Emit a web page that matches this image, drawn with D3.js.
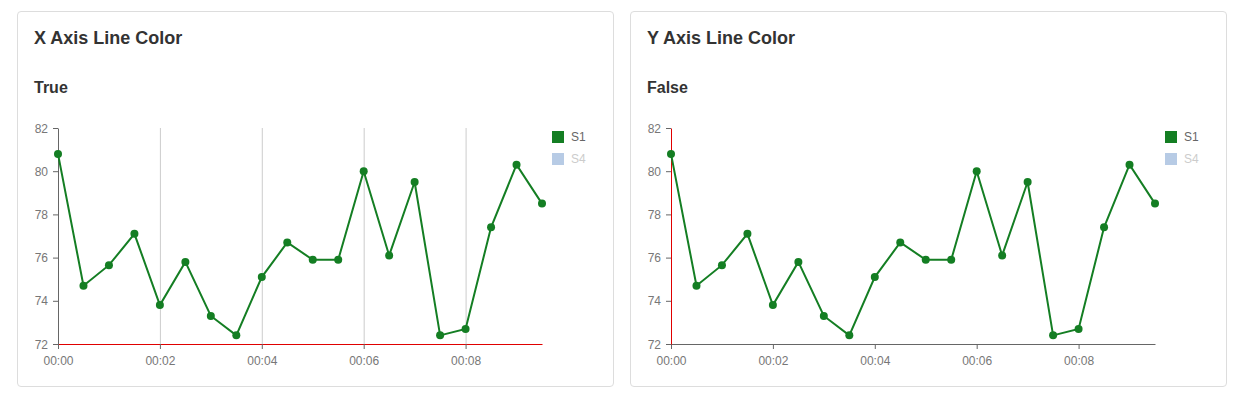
<!DOCTYPE html>
<html>
<head>
<meta charset="utf-8">
<script src="https://cdn.jsdelivr.net/npm/d3@7"></script>
<style>
  body { margin: 0; background: #fff; font-family: "Liberation Sans", Arial, sans-serif; }
  #root { position: relative; width: 1235px; height: 396px; }
  .card { position: absolute; top: 11px; width: 595px; height: 374px; border: 1px solid #ddd; border-radius: 4px; }
  svg { display: block; }
</style>
</head>
<body>
<div id="root"></div>
<script>
// half-minute samples, in seconds from 00:00
const seconds = [0, 30, 60, 90, 120, 150, 180, 210, 240, 270, 300, 330, 360, 390, 420, 450, 480, 510, 540, 570];
const s1Values = [80.8, 74.7, 75.65, 77.1, 73.8, 75.8, 73.3, 72.4, 75.1, 76.7, 75.9, 75.9, 80.0, 76.1, 79.5, 72.4, 72.7, 77.4, 80.3, 78.5];
const yTicks = [72, 74, 76, 78, 80, 82];
const xTicks = [0, 120, 240, 360, 480];
const seriesNames = ["S1", "S4"];
const cards = [
  { title: "X Axis Line Color", subtitle: "True", left: 17, redAxis: "x", grid: true },
  { title: "Y Axis Line Color", subtitle: "False", left: 630, redAxis: "y", grid: false },
];

const root = d3.select("#root");
const width = 595;
const height = 374;
const margin = { top: 116, right: 71, bottom: 42, left: 40 };
const innerWidth = width - margin.left - margin.right;
const innerHeight = height - margin.top - margin.bottom;

const xScale = d3.scaleLinear().domain([0, 570]).range([0, innerWidth]);
const yScale = d3.scaleLinear().domain([72, 82]).range([innerHeight, 0]);
const fmt = (s) => "00:0" + Math.floor(s / 60);

cards.forEach((c) => {
  const svg = root
    .append("div")
    .attr("class", "card")
    .style("left", c.left + "px")
    .append("svg")
    .attr("width", width)
    .attr("height", height);

  svg.append("text").text(c.title)
    .attr("x", 16).attr("y", 32)
    .attr("font-size", 18).attr("font-weight", 700).attr("fill", "#333");
  svg.append("text").text(c.subtitle)
    .attr("x", 16).attr("y", 81)
    .attr("font-size", 16).attr("font-weight", 700).attr("fill", "#333");

  const g = svg.append("g").attr("transform", `translate(${margin.left}, ${margin.top})`);

  // vertical gridlines
  if (c.grid) {
    g.selectAll("line.grid")
      .data(xTicks.slice(1))
      .join("line")
      .attr("x1", (d) => xScale(d) + 0.5).attr("x2", (d) => xScale(d) + 0.5)
      .attr("y1", 0).attr("y2", innerHeight)
      .attr("stroke", "#ccc");
  }

  const xAxis = g.append("g")
    .attr("transform", `translate(0, ${innerHeight})`)
    .call(d3.axisBottom(xScale).tickValues(xTicks).tickFormat(fmt).tickSize(5).tickPadding(7).tickSizeOuter(0));
  const yAxis = g.append("g")
    .call(d3.axisLeft(yScale).tickValues(yTicks).tickSize(5).tickPadding(5).tickSizeOuter(0));

  [xAxis, yAxis].forEach((ax) => {
    ax.selectAll("line").attr("stroke", "#666");
    ax.selectAll("text").attr("fill", "#777").attr("font-size", 12)
      .attr("font-family", "Liberation Sans, Arial, sans-serif");
    ax.select(".domain").attr("stroke", "#666");
  });
  xAxis.selectAll("text").attr("dy", null).attr("y", 21);
  yAxis.selectAll("text").attr("dy", null).attr("y", 4);
  (c.redAxis === "x" ? xAxis : yAxis).select(".domain").attr("stroke", "#e00000");

  const line = d3.line().x((d, i) => xScale(seconds[i])).y((d) => yScale(d));
  g.append("path").datum(s1Values)
    .attr("d", line).attr("fill", "none")
    .attr("stroke", "#147e23").attr("stroke-width", 2);
  g.selectAll("circle")
    .data(s1Values)
    .join("circle")
    .attr("cx", (d, i) => xScale(seconds[i]))
    .attr("cy", (d) => yScale(d))
    .attr("r", 4)
    .attr("fill", "#147e23");

  // legend
  const lx = margin.left + innerWidth + 10;
  const ly = 119;
  const swatch = ["#147e23", "#b7cbe5"];
  const textColor = ["#666", "#ccc"];
  svg.selectAll("rect.key")
    .data(seriesNames)
    .join("rect")
    .attr("class", "key")
    .attr("x", lx).attr("y", (d, i) => ly + i * 22)
    .attr("width", 12).attr("height", 12)
    .attr("fill", (d, i) => swatch[i]);
  svg.selectAll("text.key")
    .data(seriesNames)
    .join("text")
    .attr("class", "key")
    .text((d) => d)
    .attr("x", lx + 19).attr("y", (d, i) => ly + i * 22 + 10)
    .attr("font-size", 12)
    .attr("fill", (d, i) => textColor[i]);
});
</script>
</body>
</html>
